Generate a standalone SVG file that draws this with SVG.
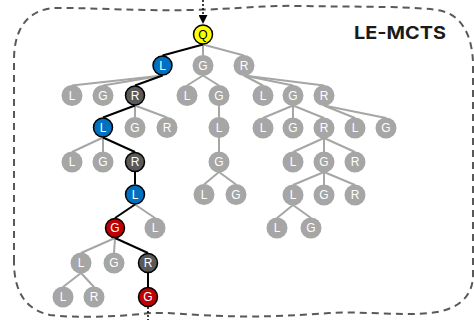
<svg xmlns="http://www.w3.org/2000/svg" width="474" height="320" viewBox="0 0 474 320">
<defs>
<style>
.e{stroke:#a6a6a6;stroke-width:2;fill:none}
.b{stroke:#000;stroke-width:2;fill:none}
.n circle{stroke:none;fill:#a6a6a6}
.n text{font-family:"Liberation Sans",Arial,sans-serif;font-size:12px;fill:#fff;text-anchor:middle}
.c circle{stroke:#000;stroke-width:1.5}
.q circle{fill:#ffff00}
.q text{fill:#000;font-size:12px}
.bl circle{fill:#0070c0}
.rd circle{fill:#c00000}
.dk circle{fill:#595959}
</style>
<marker id="ah" viewBox="0 0 10 10" refX="9" refY="5" markerWidth="6" markerHeight="6" orient="auto">
<path d="M0,0 L10,5 L0,10 Z" fill="#000"/>
</marker>
</defs>
<rect width="474" height="320" fill="#fff"/>
<path id="frame" d="M14,262 L14,60 C14,26 30,8 58,8 C100,8 140,11 190,10 C240,9 262,5 300,6 C360,7 420,6 442,11 C462,16 472,36 473,62 L473,275 C473,295 460,310 430,313 C400,316 360,311 330,313 C290,316 250,318 200,315 C170,313 155,312 142,314 C110,317 75,318 50,315 C26,310 14,292 14,262 Z" fill="none" stroke="#595959" stroke-width="2" stroke-dasharray="7 5"/>
<text x="446" y="39" font-family="Inter,'Liberation Sans',sans-serif" font-weight="bold" font-size="17.5" fill="#1a1a1a" text-anchor="end" textLength="92" lengthAdjust="spacingAndGlyphs">LE-MCTS</text>
<g id="connectors">
<line x1="203" y1="0" x2="203" y2="23" stroke="#000" stroke-width="1.5" stroke-dasharray="2 2" marker-end="url(#ah)"/>
<line x1="148" y1="307" x2="148" y2="320" stroke="#000" stroke-width="1.5" stroke-dasharray="2 2"/>
<line class="e" x1="203" y1="44.5" x2="203" y2="55.5"/>
<line class="e" x1="203" y1="44.5" x2="244" y2="55.5"/>
<line class="e" x1="162.5" y1="75.5" x2="72" y2="85.5"/>
<line class="e" x1="162.5" y1="75.5" x2="103" y2="85.5"/>
<line class="e" x1="203" y1="75.5" x2="187" y2="85.5"/>
<line class="e" x1="203" y1="75.5" x2="219" y2="85.5"/>
<line class="e" x1="244" y1="75.5" x2="263" y2="85.5"/>
<line class="e" x1="244" y1="75.5" x2="293" y2="85.5"/>
<line class="e" x1="244" y1="75.5" x2="324" y2="85.5"/>
<line class="e" x1="135" y1="105.5" x2="135" y2="117.5"/>
<line class="e" x1="135" y1="105.5" x2="167" y2="117.5"/>
<line class="e" x1="219" y1="105.5" x2="219" y2="117.5"/>
<line class="e" x1="293" y1="105.5" x2="263" y2="118"/>
<line class="e" x1="293" y1="105.5" x2="293" y2="118"/>
<line class="e" x1="293" y1="105.5" x2="324" y2="118"/>
<line class="e" x1="324" y1="105.5" x2="355" y2="118"/>
<line class="e" x1="324" y1="105.5" x2="386" y2="118"/>
<line class="e" x1="103" y1="137.5" x2="72" y2="152"/>
<line class="e" x1="103" y1="137.5" x2="103" y2="152"/>
<line class="e" x1="219" y1="137.5" x2="219" y2="152"/>
<line class="e" x1="324" y1="138" x2="293" y2="152"/>
<line class="e" x1="324" y1="138" x2="324" y2="152"/>
<line class="e" x1="324" y1="138" x2="355" y2="152"/>
<line class="e" x1="219" y1="172" x2="204" y2="184.5"/>
<line class="e" x1="219" y1="172" x2="236" y2="184.5"/>
<line class="e" x1="324" y1="172" x2="293" y2="185"/>
<line class="e" x1="324" y1="172" x2="324" y2="185"/>
<line class="e" x1="324" y1="172" x2="355" y2="185"/>
<line class="e" x1="135" y1="204.5" x2="155" y2="218"/>
<line class="e" x1="293" y1="205" x2="277" y2="218"/>
<line class="e" x1="293" y1="205" x2="311" y2="218"/>
<line class="e" x1="115" y1="238" x2="81" y2="253"/>
<line class="e" x1="115" y1="238" x2="114" y2="253"/>
<line class="e" x1="81" y1="273" x2="63" y2="287"/>
<line class="e" x1="81" y1="273" x2="94" y2="287"/>
<line class="b" x1="203" y1="44.5" x2="162.5" y2="55.5"/>
<line class="b" x1="162.5" y1="75.5" x2="135" y2="85.5"/>
<line class="b" x1="135" y1="105.5" x2="103" y2="117.5"/>
<line class="b" x1="103" y1="137.5" x2="135" y2="152"/>
<line class="b" x1="135" y1="172" x2="135" y2="184.5"/>
<line class="b" x1="135" y1="204.5" x2="115" y2="218"/>
<line class="b" x1="115" y1="238" x2="148" y2="253"/>
<line class="b" x1="148" y1="273" x2="148" y2="287"/>
</g>
<g id="n0" class="n c q"><circle cx="203" cy="34.5" r="9.5"/><text x="203" y="38.8">Q</text></g>
<g id="n1" class="n c bl"><circle cx="162.5" cy="65.5" r="9.5"/><text x="162.5" y="69.8">L</text></g>
<g id="n2" class="n"><circle cx="203" cy="65.5" r="10.5"/><text x="203" y="69.8">G</text></g>
<g id="n3" class="n"><circle cx="244" cy="65.5" r="10.5"/><text x="244" y="69.8">R</text></g>
<g id="n4" class="n"><circle cx="72" cy="95.5" r="10.5"/><text x="72" y="99.8">L</text></g>
<g id="n5" class="n"><circle cx="103" cy="95.5" r="10.5"/><text x="103" y="99.8">G</text></g>
<g id="n6" class="n c dk"><circle cx="135" cy="95.5" r="9.5"/><text x="135" y="99.8">R</text></g>
<g id="n7" class="n"><circle cx="187" cy="95.5" r="10.5"/><text x="187" y="99.8">L</text></g>
<g id="n8" class="n"><circle cx="219" cy="95.5" r="10.5"/><text x="219" y="99.8">G</text></g>
<g id="n9" class="n"><circle cx="263" cy="95.5" r="10.5"/><text x="263" y="99.8">L</text></g>
<g id="n10" class="n"><circle cx="293" cy="95.5" r="10.5"/><text x="293" y="99.8">G</text></g>
<g id="n11" class="n"><circle cx="324" cy="95.5" r="10.5"/><text x="324" y="99.8">R</text></g>
<g id="n12" class="n c bl"><circle cx="103" cy="127.5" r="9.5"/><text x="103" y="131.8">L</text></g>
<g id="n13" class="n"><circle cx="135" cy="127.5" r="10.5"/><text x="135" y="131.8">G</text></g>
<g id="n14" class="n"><circle cx="167" cy="127.5" r="10.5"/><text x="167" y="131.8">R</text></g>
<g id="n15" class="n"><circle cx="219" cy="127.5" r="10.5"/><text x="219" y="131.8">L</text></g>
<g id="n16" class="n"><circle cx="263" cy="128" r="10.5"/><text x="263" y="132.3">L</text></g>
<g id="n17" class="n"><circle cx="293" cy="128" r="10.5"/><text x="293" y="132.3">G</text></g>
<g id="n18" class="n"><circle cx="324" cy="128" r="10.5"/><text x="324" y="132.3">R</text></g>
<g id="n19" class="n"><circle cx="355" cy="128" r="10.5"/><text x="355" y="132.3">L</text></g>
<g id="n20" class="n"><circle cx="386" cy="128" r="10.5"/><text x="386" y="132.3">G</text></g>
<g id="n21" class="n"><circle cx="72" cy="162" r="10.5"/><text x="72" y="166.3">L</text></g>
<g id="n22" class="n"><circle cx="103" cy="162" r="10.5"/><text x="103" y="166.3">G</text></g>
<g id="n23" class="n c dk"><circle cx="135" cy="162" r="9.5"/><text x="135" y="166.3">R</text></g>
<g id="n24" class="n"><circle cx="219" cy="162" r="10.5"/><text x="219" y="166.3">G</text></g>
<g id="n25" class="n"><circle cx="293" cy="162" r="10.5"/><text x="293" y="166.3">L</text></g>
<g id="n26" class="n"><circle cx="324" cy="162" r="10.5"/><text x="324" y="166.3">G</text></g>
<g id="n27" class="n"><circle cx="355" cy="162" r="10.5"/><text x="355" y="166.3">R</text></g>
<g id="n28" class="n c bl"><circle cx="135" cy="194.5" r="9.5"/><text x="135" y="198.8">L</text></g>
<g id="n29" class="n"><circle cx="204" cy="194.5" r="10.5"/><text x="204" y="198.8">L</text></g>
<g id="n30" class="n"><circle cx="236" cy="194.5" r="10.5"/><text x="236" y="198.8">G</text></g>
<g id="n31" class="n"><circle cx="293" cy="195" r="10.5"/><text x="293" y="199.3">L</text></g>
<g id="n32" class="n"><circle cx="324" cy="195" r="10.5"/><text x="324" y="199.3">G</text></g>
<g id="n33" class="n"><circle cx="355" cy="195" r="10.5"/><text x="355" y="199.3">R</text></g>
<g id="n34" class="n c rd"><circle cx="115" cy="228" r="9.5"/><text x="115" y="232.3">G</text></g>
<g id="n35" class="n"><circle cx="155" cy="228" r="10.5"/><text x="155" y="232.3">L</text></g>
<g id="n36" class="n"><circle cx="277" cy="228" r="10.5"/><text x="277" y="232.3">L</text></g>
<g id="n37" class="n"><circle cx="311" cy="228" r="10.5"/><text x="311" y="232.3">G</text></g>
<g id="n38" class="n"><circle cx="81" cy="263" r="10.5"/><text x="81" y="267.3">L</text></g>
<g id="n39" class="n"><circle cx="114" cy="263" r="10.5"/><text x="114" y="267.3">G</text></g>
<g id="n40" class="n c dk"><circle cx="148" cy="263" r="9.5"/><text x="148" y="267.3">R</text></g>
<g id="n41" class="n"><circle cx="63" cy="297" r="10.5"/><text x="63" y="301.3">L</text></g>
<g id="n42" class="n"><circle cx="94" cy="297" r="10.5"/><text x="94" y="301.3">R</text></g>
<g id="n43" class="n c rd"><circle cx="148" cy="297" r="9.5"/><text x="148" y="301.3">G</text></g>
</svg>
